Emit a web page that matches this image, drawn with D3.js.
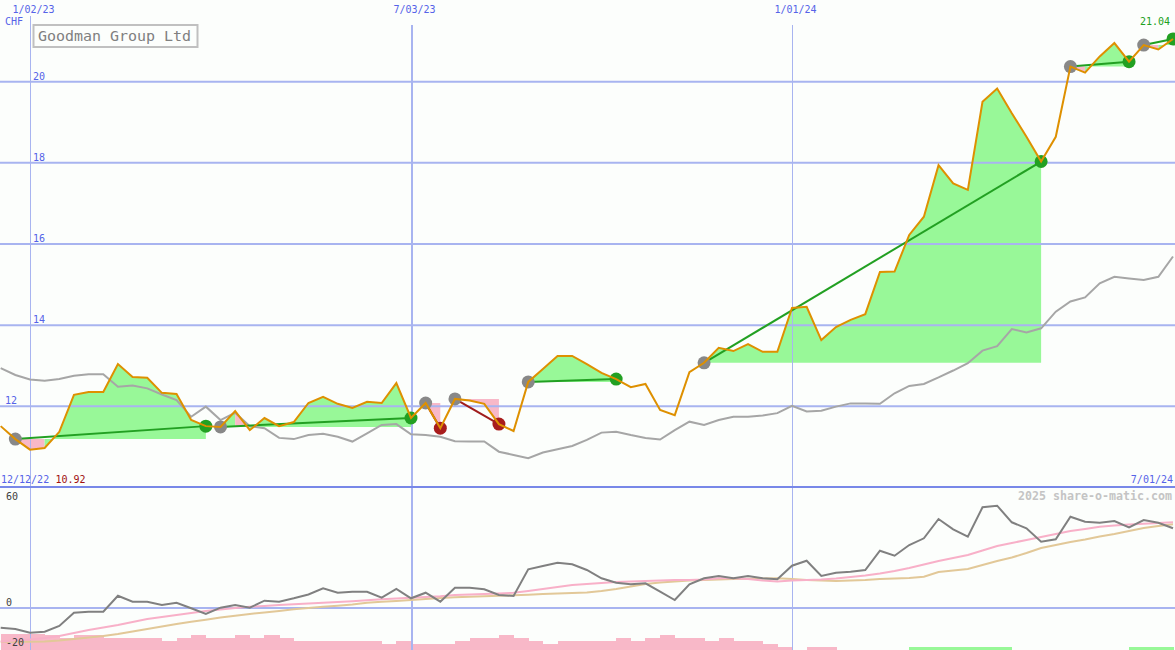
<!DOCTYPE html>
<html><head><meta charset="utf-8">
<script src="https://cdn.jsdelivr.net/npm/d3@7"></script>
<style>
html,body{margin:0;padding:0;background:#fcfefc;}
svg{display:block;}
text{font-family:"DejaVu Sans Mono",monospace;}
</style></head><body>
<svg id="c" width="1175" height="650"></svg>
<script>
// ---------- data ----------
const title = "Goodman Group Ltd";
const currency = "CHF";
const startDateLabel = "12/12/22";
const endDateLabel = "7/01/24";
const minPriceLabel = "10.92";
const lastPriceLabel = "21.04";
const watermark = "2025 share-o-matic.com";
const dateTickLabels = ["1/02/23", "7/03/23", "1/01/24"];
const dateTicks = ["2023-01-02", "2023-07-03", "2024-01-01"];
const priceTicks = [12, 14, 16, 18, 20];
const oscTicks = [60, 0, -20];
const firstWeek = "2022-12-19";
const lastWeek = "2024-07-01";

// weekly close (CHF)
const price = [11.50, 11.18, 10.92, 10.96, 11.36, 12.27, 12.34, 12.34, 13.03, 12.71,
  12.69, 12.32, 12.29, 11.65, 11.50, 11.48, 11.87, 11.40, 11.70, 11.50,
  11.60, 12.07, 12.22, 12.05, 11.95, 12.10, 12.07, 12.56, 11.70, 12.07,
  11.45, 12.17, 12.13, 12.05, 11.55, 11.38, 12.59, 12.91, 13.23, 13.23,
  13.03, 12.81, 12.66, 12.46, 12.54, 11.90, 11.77, 12.83, 13.06, 13.43,
  13.35, 13.52, 13.33, 13.33, 14.41, 14.44, 13.62, 13.94, 14.12, 14.26,
  15.30, 15.31, 16.21, 16.66, 17.93, 17.48, 17.32, 19.49, 19.82, 19.21,
  18.63, 18.02, 18.63, 20.36, 20.21, 20.61, 20.94, 20.48, 20.89, 20.78, 21.04];

// comparison index, rescaled to price axis
const index = [12.93, 12.76, 12.65, 12.62, 12.66, 12.74, 12.78, 12.78, 12.47, 12.50,
  12.43, 12.28, 12.14, 11.73, 11.98, 11.65, 11.83, 11.50, 11.45, 11.21,
  11.18, 11.28, 11.31, 11.24, 11.12, 11.32, 11.53, 11.55, 11.30, 11.28,
  11.24, 11.13, 11.12, 11.12, 10.87, 10.79, 10.71, 10.85, 10.93, 11.01,
  11.16, 11.34, 11.36, 11.28, 11.21, 11.17, 11.40, 11.61, 11.53, 11.65,
  11.73, 11.73, 11.76, 11.82, 12.00, 11.86, 11.88, 11.98, 12.06, 12.06,
  12.05, 12.31, 12.49, 12.54, 12.70, 12.87, 13.05, 13.36, 13.47, 13.89,
  13.81, 13.91, 14.32, 14.57, 14.67, 15.02, 15.18, 15.14, 15.10, 15.18, 15.68];

// lower panel oscillator and its two averages
const osc = [-10.1, -10.75, -12.6, -12.1, -9.25, -2.6, -2.1, -2.1, 5.9, 2.9,
  2.9, 1.25, 2.4, -0.4, -3.25, -0.1, 1.25, -0.1, 3.4, 2.9,
  4.6, 6.5, 9.6, 7.4, 7.9, 7.9, 4.9, 9.25, 4.6, 7.4,
  2.9, 9.9, 9.9, 9.1, 6.25, 5.75, 19.1, 20.75, 22.4, 21.6,
  18.75, 14.6, 12.4, 11.6, 12.1, 7.9, 3.75, 11.6, 14.6, 15.75,
  14.6, 15.75, 14.6, 14.1, 20.9, 23.4, 15.75, 17.4, 17.9, 18.75,
  28.4, 25.9, 31.25, 34.6, 44.25, 39.1, 35.4, 50.1, 50.9, 42.6,
  39.6, 32.9, 34.1, 45.4, 42.9, 42.4, 43.25, 40.1, 43.75, 42.4, 39.6];

const oscAvgFast = [-17, -16.5, -16, -15.25, -14.25, -12.75, -11.25, -10, -8.75, -7.25,
  -5.75, -4.75, -3.75, -2.75, -1.75, -1, -0.25, 0.4, 0.75, 1.25,
  1.6, 2, 2.4, 2.75, 3.1, 3.6, 4.1, 4.5, 4.9, 5.25,
  5.6, 6.25, 6.5, 6.75, 7, 7.4, 8.25, 9.25, 10.25, 11.25,
  11.75, 12.25, 12.75, 13, 13.25, 13.5, 13.75, 13.75, 14, 14.6,
  14.6, 14.25, 13.5, 13, 13.5, 13.75, 14, 14.5, 15.25, 16,
  17, 18.25, 19.75, 21.5, 23.25, 24.75, 26.25, 28.5, 30.75, 32.25,
  33.75, 35.25, 36.75, 38.25, 39.25, 40.4, 41, 41.5, 41.9, 42.25, 42.6];

const oscAvgSlow = [-17.1, -17.1, -17.1, -17, -16.5, -15.75, -15, -14.25, -13.25, -12,
  -10.75, -9.5, -8.25, -7.1, -6.1, -5, -4.1, -3.25, -2.5, -1.7,
  -0.9, -0.25, 0.4, 0.9, 1.5, 2.4, 2.9, 3.25, 3.75, 4.25,
  4.75, 5.1, 5.4, 5.65, 5.85, 6.1, 6.4, 6.75, 7, 7.25,
  7.5, 8.25, 9.25, 10.5, 11.75, 12.5, 13, 13.5, 13.75, 14,
  14.25, 14.4, 14.5, 14.6, 14.25, 13.75, 13.5, 13.25, 13.5, 13.75,
  14.25, 14.5, 14.75, 15.4, 17.75, 18.5, 19.25, 21.25, 23.25, 25,
  27.25, 29.75, 31.25, 32.75, 34, 35.5, 36.75, 38.25, 39.75, 40.75, 41.6];

// weekly histogram (sign = colour, size = bar height in panel units)
const hist = [-8, -8, -8, -7.5, -6, -7.5, -7.5, -6, -6, -6,
  -6, -4.5, -6, -7.5, -6, -6, -7.5, -6, -7.5, -6,
  -4.5, -4.5, -4.5, -4.5, -4.5, -4.5, -3, -4.5, -3, -3,
  -3, -4.5, -6, -6, -7.5, -6, -4.5, -3, -4.5, -4.5,
  -4.5, -4.5, -6, -4.5, -6, -7.5, -6, -6, -4.5, -6,
  -4.5, -4.5, -3, -1.5, 0, -1.5, -1.5, 0, 0, 0,
  0, 0, 1.5, 1.5, 1.5, 1.5, 1.5, 1.5, 1.5, 0,
  0, 0, 0, 0, 0, 0, 0, 1.5, 1.5, 1.5];

// trades (entry / exit weeks)
const tradeEntries = ["2022-12-26", "2023-04-03", "2023-07-10", "2023-07-24", "2023-08-28", "2023-11-20", "2024-05-13", "2024-06-17"];
const tradeExits   = ["2023-03-27", "2023-07-03", "2023-07-17", "2023-08-14", "2023-10-09", "2024-04-29", "2024-06-10", "2024-07-01"];

// ---------- setup ----------
const W = 1175, H = 650;
const parse = s => { const [y, m, d] = s.split("-").map(Number); return new Date(Date.UTC(y, m - 1, d)); };
const weeks = d3.utcMonday.range(parse(firstWeek), d3.utcDay.offset(parse(lastWeek), 1));
const idxOf = s => weeks.findIndex(w => w.getTime() === parse(s).getTime());

const x = d3.scaleUtc().domain([parse("2023-01-02"), parse("2024-07-01")]).range([30, 1173]);
const yTop = d3.scaleLinear().domain([10, 22]).range([487, 0]);
const yBot = d3.scaleLinear().domain([-21.25, 60]).range([650, 487.5]);

const svg = d3.select("#c");
svg.append("rect").attr("width", W).attr("height", H).attr("fill", "#fcfefc");
const defs = svg.append("defs");
defs.append("clipPath").attr("id", "clipTop").append("rect").attr("x", 0).attr("y", 0).attr("width", W).attr("height", 487);
defs.append("clipPath").attr("id", "clipBot").append("rect").attr("x", 0).attr("y", 488).attr("width", W).attr("height", H - 488);

const GREEN_FILL = "#98f898", PINK_FILL = "#f8b8c8";
const GRID = "#a8b4f0", BLUE = "#5563e8";

// ---------- trade fills (runs of same-coloured weekly segments) ----------
const fillG = svg.append("g").attr("clip-path", "url(#clipTop)");
const segArea = d3.area().x(d => x(d.date)).y0(d => d.base).y1(d => yTop(d.v));
tradeEntries.forEach((es, t) => {
  const i0 = idxOf(es), i1 = idxOf(tradeExits[t]);
  const pE = price[i0];
  const base = yTop(pE);
  let runStart = i0;
  for (let i = i0; i < i1; i++) {
    const g = price[i + 1] >= pE;
    const last = i === i1 - 1;
    const nextG = last ? null : price[i + 2] >= pE;
    if (last || nextG !== g) {
      const pts = [];
      for (let j = runStart; j <= i + 1; j++) pts.push({date: weeks[j], v: price[j], base});
      fillG.append("path").attr("d", segArea(pts)).attr("fill", g ? GREEN_FILL : PINK_FILL);
      runStart = i + 1;
    }
  }
});

// ---------- bottom histogram ----------
const barG = svg.append("g").attr("clip-path", "url(#clipBot)").attr("shape-rendering", "crispEdges");
hist.forEach((h, i) => {
  if (!h || i + 1 >= weeks.length) return;
  const x0 = x(weeks[i]), x1 = x(weeks[i + 1]);
  const top = yBot(yBot.domain()[0] + Math.abs(h));
  barG.append("rect").attr("x", x0).attr("width", x1 - x0 + 0.6)
    .attr("y", top).attr("height", H - top)
    .attr("fill", h < 0 ? PINK_FILL : GREEN_FILL);
});

// ---------- grid ----------
const gTop = svg.append("g").call(d3.axisRight(yTop).tickValues(priceTicks).tickSize(W).tickFormat(""));
gTop.select(".domain").remove();
gTop.selectAll("line").attr("stroke", GRID).attr("stroke-width", 2);

const gBot = svg.append("g").call(d3.axisRight(yBot).tickValues([0]).tickSize(W).tickFormat(""));
gBot.select(".domain").remove();
gBot.selectAll("line").attr("stroke", GRID).attr("stroke-width", 2);

dateTicks.forEach((d, i) => {
  const xx = Math.round(x(parse(d))) + (i === 1 ? 1 : 0.5);
  svg.append("line").attr("x1", xx).attr("x2", xx)
    .attr("y1", i === 0 ? 16 : 25).attr("y2", H)
    .attr("stroke", GRID).attr("stroke-width", i === 1 ? 2 : 1);
});

// separator
svg.append("line").attr("x1", 0).attr("x2", W).attr("y1", 487).attr("y2", 487)
  .attr("stroke", "#7888e8").attr("stroke-width", 2);

// ---------- lower panel lines ----------
const lowG = svg.append("g").attr("clip-path", "url(#clipBot)");
const lowLine = arr => d3.line().x((d, i) => x(weeks[i])).y(d => yBot(d))(arr);
lowG.append("path").attr("d", lowLine(oscAvgSlow)).attr("fill", "none").attr("stroke", "#e2c898").attr("stroke-width", 2);
lowG.append("path").attr("d", lowLine(oscAvgFast)).attr("fill", "none").attr("stroke", "#f8b0c8").attr("stroke-width", 2);
lowG.append("path").attr("d", lowLine(osc)).attr("fill", "none").attr("stroke", "#808080").attr("stroke-width", 2);

// ---------- upper panel lines ----------
const topG = svg.append("g").attr("clip-path", "url(#clipTop)");
const topLine = arr => d3.line().x((d, i) => x(weeks[i])).y(d => yTop(d))(arr);
topG.append("path").attr("d", topLine(index)).attr("fill", "none").attr("stroke", "#a6a6a6").attr("stroke-width", 2);

// trade lines
tradeEntries.forEach((es, t) => {
  const i0 = idxOf(es), i1 = idxOf(tradeExits[t]);
  const win = price[i1] >= price[i0];
  topG.append("line")
    .attr("x1", x(weeks[i0])).attr("y1", yTop(price[i0]))
    .attr("x2", x(weeks[i1])).attr("y2", yTop(price[i1]))
    .attr("stroke", win ? "#22a022" : "#a01c1c").attr("stroke-width", 2);
});
// markers
tradeEntries.forEach((es, t) => {
  const i0 = idxOf(es), i1 = idxOf(tradeExits[t]);
  const win = price[i1] >= price[i0];
  topG.append("circle").attr("cx", x(weeks[i0])).attr("cy", yTop(price[i0])).attr("r", 6.5).attr("fill", "#888888");
  topG.append("circle").attr("cx", x(weeks[i1])).attr("cy", yTop(price[i1])).attr("r", 6.5).attr("fill", win ? "#22a022" : "#a81c1c");
});

topG.append("path").attr("d", topLine(price)).attr("fill", "none").attr("stroke", "#de9000").attr("stroke-width", 2);

// ---------- texts ----------
const txt = (s, xx, yy, col, anchor = "start", size = 10) =>
  svg.append("text").attr("x", xx).attr("y", yy).attr("fill", col)
    .attr("font-size", size).attr("text-anchor", anchor).text(s);

gTop.selectAll(".tick").append("text")
  .attr("x", d => d === 12 ? 5 : 33).attr("y", -2)
  .attr("fill", BLUE).attr("font-size", 10).attr("text-anchor", "start")
  .attr("font-family", "DejaVu Sans Mono").text(d => d);

oscTicks.forEach(v => txt(String(v), 6, v === 60 ? yBot(v) + 12 : yBot(v) - 1.5, "#404040"));

dateTicks.forEach((d, i) => txt(dateTickLabels[i], x(parse(d)) + 3.5, 13, BLUE, "middle"));
txt(currency, 5, 25, BLUE);
txt(lastPriceLabel, 1170, 25, "#20a020", "end");
txt(startDateLabel, 1, 482.5, BLUE);
txt(minPriceLabel, 55.5, 482.5, "#a01010");
txt(endDateLabel, 1173, 482.5, BLUE, "end");
svg.append("text").attr("x", 1018).attr("y", 500).attr("fill", "#c4c4c4")
  .attr("font-size", 11.5).attr("font-weight", "bold")
  .attr("textLength", 154).attr("lengthAdjust", "spacingAndGlyphs").text(watermark);

// title box
svg.append("rect").attr("x", 33.5).attr("y", 25).attr("width", 164).attr("height", 22)
  .attr("fill", "#fcfefc").attr("stroke", "#c0c0c0").attr("stroke-width", 2);
svg.append("text").attr("x", 38).attr("y", 40.5).attr("fill", "#808080")
  .attr("font-size", 14).attr("textLength", 153).attr("lengthAdjust", "spacingAndGlyphs").text(title);
</script>
</body></html>
